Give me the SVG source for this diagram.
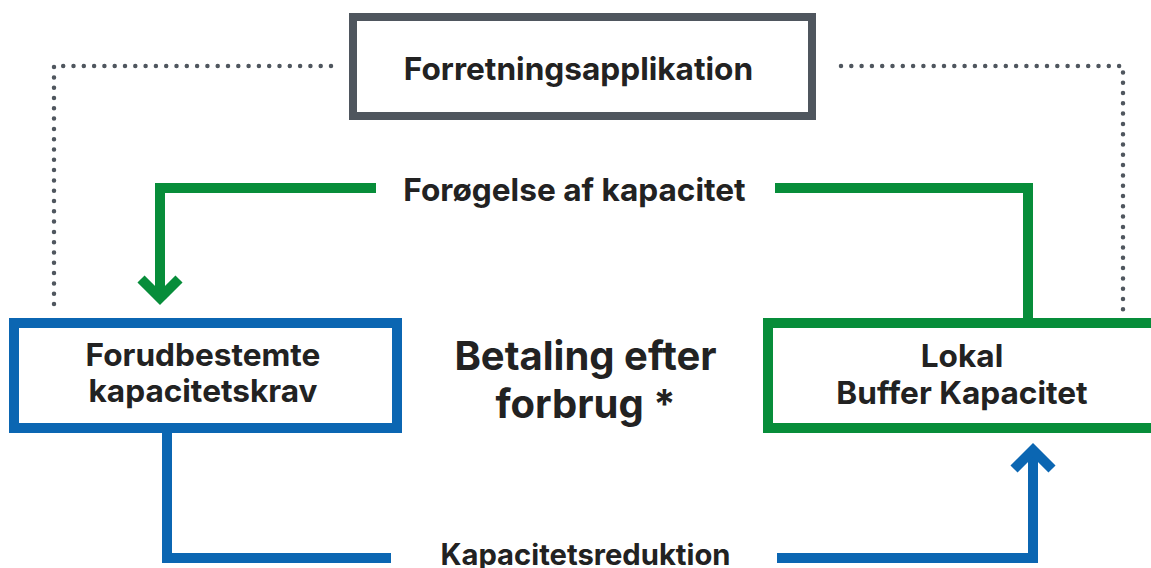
<svg xmlns="http://www.w3.org/2000/svg" width="1151" height="568" viewBox="0 0 1151 568">
<style>
.t{font-family:Inter,"Liberation Sans",sans-serif;font-weight:700;fill:#222222;text-anchor:middle}
.m{font-size:31.6px}
.s{font-size:29.2px}
.b{font-size:40px}
.dot{fill:none;stroke:#4f565e;stroke-width:4.5;stroke-linecap:round;stroke-dasharray:0 10.3}
.g{fill:none;stroke:#078d3a;stroke-width:10}
.bl{fill:none;stroke:#0b66b2;stroke-width:10}
</style>
<rect width="1151" height="568" fill="#ffffff"/>
<g id="connectors">
<path class="dot" d="M331 66 H54 V310"/>
<path class="dot" d="M841 66 H1123 V310"/>
<path class="g" d="M376 188 H160 V296"/>
<path class="g" d="M141 279 L160 298 L179 279"/>
<path class="g" d="M775 188 H1028 V323"/>
<path class="bl" d="M167 428 V558 H391"/>
<path class="bl" d="M777 558 H1033 V450"/>
<path class="bl" d="M1014 469 L1033 450 L1052 469"/>
</g>
<g id="node-app">
<rect x="353" y="17" width="459" height="99" fill="#ffffff" stroke="#4f565e" stroke-width="8"/>
<text class="t m" x="578.5" y="80">Forretningsapplikation</text>
</g>
<g id="node-krav">
<rect x="14" y="323" width="383" height="105" fill="#ffffff" stroke="#0b66b2" stroke-width="10"/>
<text class="t m" x="203" y="366">Forudbestemte</text>
<text class="t m" x="203" y="402">kapacitetskrav</text>
</g>
<g id="node-buffer">
<rect x="768" y="323" width="420" height="105" fill="#ffffff" stroke="#078d3a" stroke-width="10"/>
<text class="t m" x="962" y="367">Lokal</text>
<text class="t m" x="962" y="404">Buffer Kapacitet</text>
</g>
<g id="center-label">
<text class="t b" x="585.5" y="370">Betaling efter</text>
<text class="t b" x="585.5" y="418">forbrug *</text>
</g>
<g id="edge-labels">
<text class="t m" x="574.5" y="201">Forøgelse af kapacitet</text>
<text class="t s" x="585.5" y="565">Kapacitetsreduktion</text>
</g>
</svg>
